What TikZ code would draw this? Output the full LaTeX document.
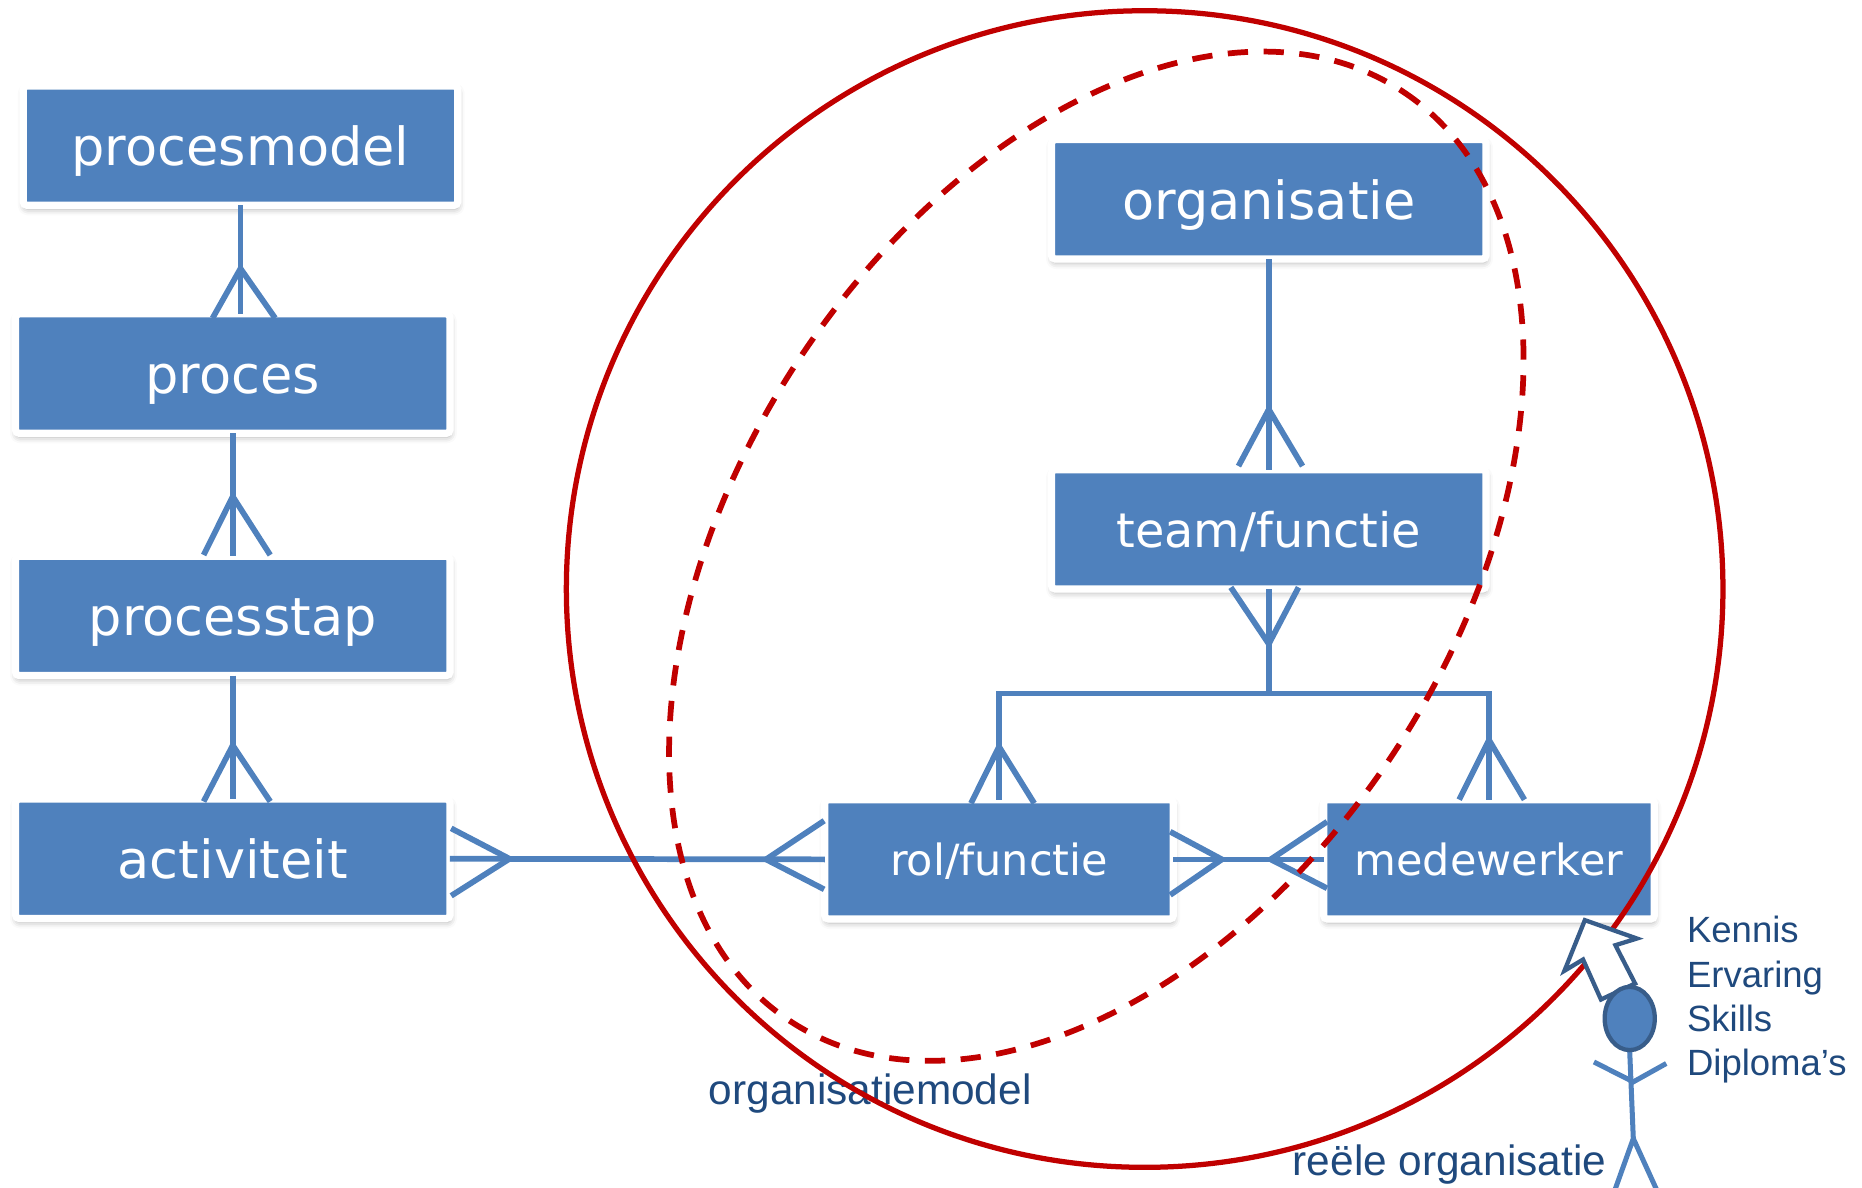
\documentclass[tikz,border=0pt]{standalone}
\usepackage{fontspec}
\setmainfont{DejaVu Sans}
\newfontfamily\arialf{Liberation Sans}
\usetikzlibrary{calc,shadows.blur}
\definecolor{boxblue}{HTML}{4F81BD}
\definecolor{darkred}{HTML}{C00000}
\definecolor{txtblue}{HTML}{1F497D}
\definecolor{edgeblue}{HTML}{385D8A}
\begin{document}
\begin{tikzpicture}[x=0.5pt,y=-0.5pt,
  ent/.style={rectangle, fill=boxblue, draw=white, line width=3pt, outer sep=0pt,
    rounded corners=1.5pt, inner sep=0pt, text=white, minimum height=50pt,
    blur shadow={shadow xshift=0.3pt, shadow yshift=-1.6pt, shadow blur radius=2.6pt, shadow opacity=32}},
  bigent/.style={ent, minimum width=182pt, font=\fontsize{22pt}{26pt}\selectfont, text height=16.5pt, text depth=0pt},
  conn/.style={draw=boxblue, line width=2.4pt},
  lbl/.style={inner sep=0pt, text=txtblue, font=\arialf\fontsize{17.75pt}{21pt}\selectfont},
  klbl/.style={inner sep=0pt, text=txtblue, anchor=base west, font=\arialf\fontsize{15.3pt}{18.5pt}\selectfont},
  fig/.style={draw=boxblue, line width=2.1pt}
]
\useasboundingbox (0,0) rectangle (1560,994.5);

% entities
\node[bigent] (pm) at (201.5,122) {procesmodel};
\node[bigent] (pr) at (195,313) {proces};
\node[bigent] (ps) at (195,516) {processtap};
\node[bigent] (ac) at (195,719.5) {activiteit};
\node[bigent] (org) at (1063,167) {organisatie};
\node[ent, minimum width=182pt, font=\fontsize{20pt}{24pt}\selectfont, text height=15pt, text depth=0pt] (team) at (1063,443.5) {team/functie};
\node[ent, minimum width=146pt, font=\fontsize{18pt}{22pt}\selectfont, text height=13.5pt, text depth=0pt] (rol) at (837,720) {rol/functie};
\node[ent, minimum width=138.5pt, font=\fontsize{18pt}{22pt}\selectfont, text height=13.5pt, text depth=0pt] (mw) at (1247.5,720) {medewerker};

% procesmodel -> proces
\coordinate (x1) at (pm.south |- pr.north);
\draw[conn] (pm.south) -- (x1);
\draw[conn] ($(x1)+(-23.4,3.5)$) -- ($(x1)+(0,-38)$) -- ($(x1)+(29,3.5)$);
% proces -> processtap
\draw[conn] (pr.south) -- (ps.north);
\draw[conn] ($(ps.north)+(-24.4,-1)$) -- ($(ps.north)+(0,-50)$) -- ($(ps.north)+(31.4,-1)$);
% processtap -> activiteit
\draw[conn] (ps.south) -- (ac.north);
\draw[conn] ($(ac.north)+(-24.4,2)$) -- ($(ac.north)+(0,-45)$) -- ($(ac.north)+(31.4,2)$);
% organisatie -> team
\draw[conn] (org.south) -- (team.north);
\draw[conn] ($(team.north)+(-25.4,-3)$) -- ($(team.north)+(0,-50.5)$) -- ($(team.north)+(28.3,-3)$);
% team -> rol / medewerker
\coordinate (bus) at (1063,581);
\draw[conn] (team.south) -- (bus);
\draw[conn] ($(team.south)+(-31.8,-1.4)$) -- ($(team.south)+(0,46)$) -- ($(team.south)+(24.9,-1.4)$);
\draw[conn] (rol.north) -- (rol.north |- bus) -- (mw.north |- bus) -- (mw.north);
\draw[conn] ($(rol.north)+(-23.5,3)$) -- ($(rol.north)+(0,-44.4)$) -- ($(rol.north)+(29.5,3)$);
\draw[conn] ($(mw.north)+(-25,0)$) -- ($(mw.north)+(0,-50)$) -- ($(mw.north)+(29.7,0)$);
% activiteit -> rol
\draw[conn] (ac.east) -- (rol.west);
\draw[conn] ($(ac.east)+(1,-25.5)$) -- ($(ac.east)+(49.9,0)$) -- ($(ac.east)+(1,31)$);
\draw[conn] ($(rol.west)+(-0.5,-32.4)$) -- ($(rol.west)+(-49.2,0)$) -- ($(rol.west)+(-0.5,25.1)$);
% rol -> medewerker
\draw[conn] (rol.east) -- (mw.west);
\draw[conn] ($(rol.east)+(-2.6,-23.2)$) -- ($(rol.east)+(40.7,0)$) -- ($(rol.east)+(-2.6,29.8)$);
\draw[conn] ($(mw.west)+(2.8,-31.6)$) -- ($(mw.west)+(-44.4,0)$) -- ($(mw.west)+(2.8,24.2)$);

% labels
\node[lbl, anchor=base west] (om) at (593.5,925) {organisatiemodel};
\node[lbl, anchor=base east] (ro) at (1346,985) {reële organisatie};
\node[klbl] (k1) at (1413,790) {Kennis};
\node[klbl] (k2) at (1413,827.3) {Ervaring};
\node[klbl] (k3) at (1413,864.5) {Skills};
\node[klbl] (k4) at (1413,901) {Diploma’s};

% circles
\draw[darkred, line width=2.2pt] (959,493.5) circle [radius=484.5];
\draw[darkred, line width=2.4pt, dash pattern=on 8.5pt off 6.5pt,
  rotate around={56.6:(918.5,466)}] (918.5,466) ellipse [x radius=466.4, y radius=298.8];

% block arrow
\draw[edgeblue, fill=white, line width=1.8pt, line join=miter]
  (1327.8,770.9) -- (1371.4,786.3) -- (1353.4,791.9) -- (1369.9,824)
  -- (1341.3,837.4) -- (1326.3,803.9) -- (1310.7,813.3) -- cycle;

% stick figure
\draw[fig] (1365.4,881.3) -- (1368.4,953.9);
\draw[fig] (1335.4,889.7) -- (1368.4,906.4) -- (1396,891);
\draw[fig] (1351.9,1000) -- (1368.4,953.9) -- (1389.4,1000);
\draw[edgeblue, fill=boxblue, line width=1.8pt] (1365.4,853.3) ellipse [x radius=21, y radius=26.5];
\end{tikzpicture}
\end{document}
